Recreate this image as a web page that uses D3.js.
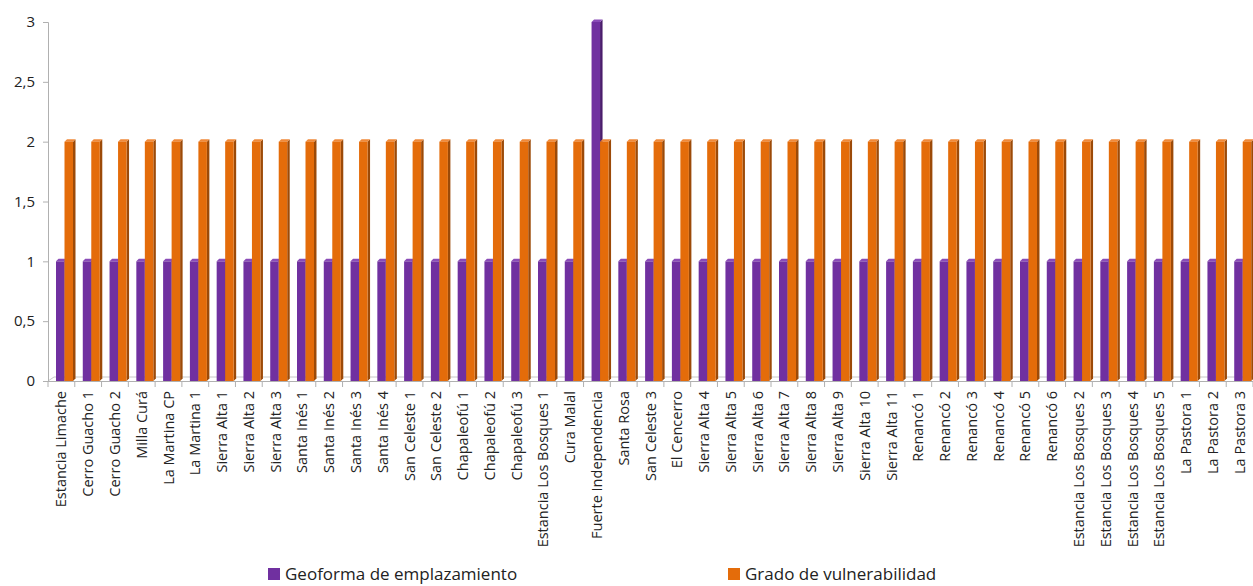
<!DOCTYPE html>
<html>
<head>
<meta charset="utf-8">
<script src="https://cdn.jsdelivr.net/npm/d3@7"></script>
<style>
  body { margin: 0; background: #fff; }
  text { font-family: "Open Sans", "Noto Sans", sans-serif; fill: #222; }
</style>
</head>
<body>
<svg width="1253" height="586"></svg>
<script>
var categories = ["Estancia Limache","Cerro Guacho 1","Cerro Guacho 2","Milla Curá","La Martina CP","La Martina 1",
  "Sierra Alta 1","Sierra Alta 2","Sierra Alta 3","Santa Inés 1","Santa Inés 2","Santa Inés 3","Santa Inés 4",
  "San Celeste 1","San Celeste 2","Chapaleofú 1","Chapaleofú 2","Chapaleofú 3","Estancia Los Bosques 1","Cura Malal",
  "Fuerte Independencia","Santa Rosa","San Celeste 3","El Cencerro","Sierra Alta 4","Sierra Alta 5","Sierra Alta 6",
  "Sierra Alta 7","Sierra Alta 8","Sierra Alta 9","Sierra Alta 10","Sierra Alta 11","Renancó 1","Renancó 2","Renancó 3",
  "Renancó 4","Renancó 5","Renancó 6","Estancia Los Bosques 2","Estancia Los Bosques 3","Estancia Los Bosques 4",
  "Estancia Los Bosques 5","La Pastora 1","La Pastora 2","La Pastora 3"];

var seriesNames = ["Geoforma de emplazamiento", "Grado de vulnerabilidad"];

var geoforma = [1,1,1,1,1,1,1,1,1,1,1,1,1,1,1,1,1,1,1,1,3,1,1,1,1,1,1,1,1,1,1,1,1,1,1,1,1,1,1,1,1,1,1,1,1];
var vulnerabilidad = [2,2,2,2,2,2,2,2,2,2,2,2,2,2,2,2,2,2,2,2,2,2,2,2,2,2,2,2,2,2,2,2,2,2,2,2,2,2,2,2,2,2,2,2,2];

var yTicks = [0, 0.5, 1, 1.5, 2, 2.5, 3];
var yTickLabels = ["0", "0,5", "1", "1,5", "2", "2,5", "3"];

var colors = ["#7030a0", "#e46c0a"];
var sideColors = ["#4a1d6c", "#9c4a08"];
var topColors = ["#8a4cb8", "#f08a3a"];

var svg = d3.select("svg");
var plotLeft = 48, plotRight = 1253, plotTop = 22, plotBottom = 381;

var x = d3.scaleBand().domain(categories).range([plotLeft, plotRight]);
var x1 = d3.scaleBand().domain(seriesNames).range([8, 8 + 2 * 8.5]);
var y = d3.scaleLinear().domain([0, 3]).range([plotBottom, plotTop]);

var data = categories.map(function(c, i) {
  return { cat: c, values: [geoforma[i], vulnerabilidad[i]] };
});

// floor
svg.append("path")
  .attr("d", "M" + plotLeft + "," + plotBottom + " L" + (plotLeft + 6) + "," + (plotBottom - 4) + " L" + plotRight + "," + (plotBottom - 4))
  .attr("fill", "none").attr("stroke", "#c8c8c8").attr("stroke-width", 1);
svg.append("line")
  .attr("x1", plotLeft).attr("x2", plotRight).attr("y1", plotBottom + 0.5).attr("y2", plotBottom + 0.5)
  .attr("stroke", "#b0b0b0");

// y axis
var yAxis = svg.append("g").attr("transform", "translate(" + plotLeft + ",0)")
  .call(d3.axisLeft(y).tickValues(yTicks).tickFormat(function(d, i) { return yTickLabels[i]; }).tickSize(5).tickPadding(8));
yAxis.select(".domain").attr("stroke", "#b0b0b0");
yAxis.selectAll(".tick line").attr("stroke", "#b0b0b0");
yAxis.selectAll("text").attr("font-size", "15px").style("font-family", "Open Sans, sans-serif").attr("fill", "#222");

// x ticks at band edges
var edges = categories.map(function(c) { return x(c); }).concat([plotRight]);
svg.selectAll(".xtick").data(edges).enter().append("line")
  .attr("class", "xtick")
  .attr("x1", function(d) { return d; }).attr("x2", function(d) { return d; })
  .attr("y1", plotBottom).attr("y2", plotBottom + 6)
  .attr("stroke", "#b0b0b0");

// bars with a little 3d side and top
var groups = svg.selectAll(".grp").data(data).enter().append("g")
  .attr("class", "grp")
  .attr("transform", function(d) { return "translate(" + x(d.cat) + ",0)"; });

var bw = 8.5, dep = 2.5;
seriesNames.forEach(function(s, si) {
  groups.append("path")
    .attr("fill", sideColors[si])
    .attr("d", function(d) {
      var x0 = x1(s) + bw, yt = y(d.values[si]);
      return "M" + x0 + "," + yt + " L" + (x0 + dep) + "," + (yt - dep) + " L" + (x0 + dep) + "," + (plotBottom - dep) + " L" + x0 + "," + plotBottom + "Z";
    });
  groups.append("path")
    .attr("fill", topColors[si])
    .attr("d", function(d) {
      var x0 = x1(s), yt = y(d.values[si]);
      return "M" + x0 + "," + yt + " L" + (x0 + dep) + "," + (yt - dep) + " L" + (x0 + bw + dep) + "," + (yt - dep) + " L" + (x0 + bw) + "," + yt + "Z";
    });
  groups.append("rect")
    .attr("x", x1(s))
    .attr("width", bw)
    .attr("y", function(d) { return y(d.values[si]); })
    .attr("height", function(d) { return plotBottom - y(d.values[si]); })
    .attr("fill", colors[si]);
});

// category labels
svg.selectAll(".xlab").data(categories).enter().append("text")
  .attr("class", "xlab")
  .attr("transform", function(d) { return "translate(" + (x(d) + x.bandwidth() / 2 + 5) + "," + (plotBottom + 10) + ") rotate(-90)"; })
  .attr("text-anchor", "end")
  .attr("font-size", "14.5px")
  .text(function(d) { return d; });

// legend
var legendX = [268, 728];
var legend = svg.selectAll(".leg").data(seriesNames).enter().append("g")
  .attr("class", "leg")
  .attr("transform", function(d, i) { return "translate(" + legendX[i] + ",567)"; });
legend.append("rect").attr("y", 1).attr("width", 12).attr("height", 12).attr("fill", function(d, i) { return colors[i]; });
legend.append("text").attr("x", 17).attr("y", 13).attr("font-size", "17px").text(function(d) { return d; });
</script>
</body>
</html>
